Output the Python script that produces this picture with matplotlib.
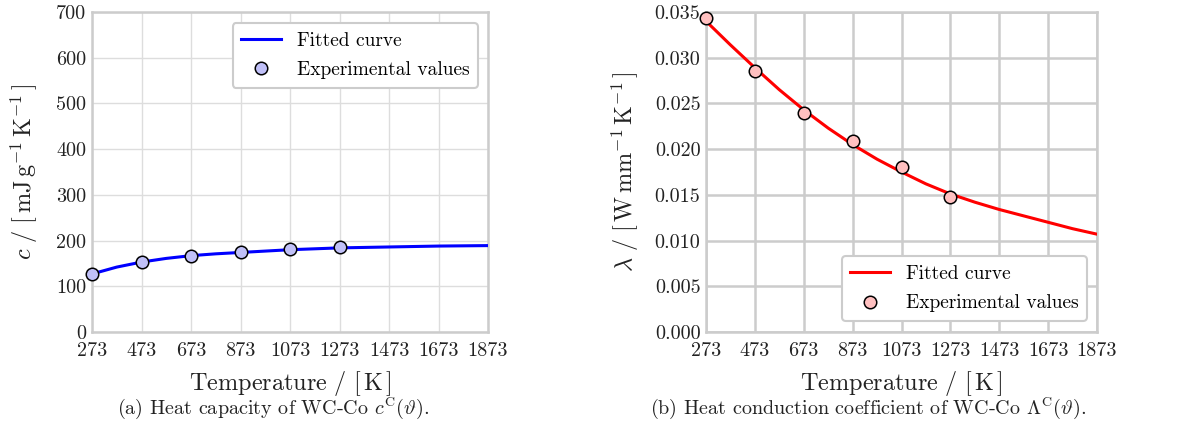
import numpy as np
import matplotlib
matplotlib.use('Agg')
import matplotlib.pyplot as plt

plt.rcParams['font.family'] = 'serif'
plt.rcParams['font.serif'] = ['cmr10', 'DejaVu Serif']
plt.rcParams['mathtext.fontset'] = 'cm'
plt.rcParams['axes.formatter.use_mathtext'] = True
plt.rcParams['axes.unicode_minus'] = False

# temperatures of the experiments
temp_exp = [273, 473, 673, 873, 1073, 1273]
# heat capacity, mJ/(g K)
c_exp = [127, 154, 167, 175, 181, 186]
# heat conduction, W/(mm K)
lam_exp = [0.0343, 0.02855, 0.0239, 0.0209, 0.0180, 0.01473]

temp_fit = [273, 373, 473, 573, 673, 773, 873, 973, 1073, 1173, 1273,
            1373, 1473, 1573, 1673, 1773, 1873]
c_fit = [127, 142, 153, 161, 167, 171, 174, 177, 180, 182, 184,
         185, 186, 187, 188, 188.5, 189]
lam_fit = [0.0340, 0.0314, 0.0289, 0.0265, 0.0243, 0.0223, 0.0205, 0.0189,
           0.0175, 0.0162, 0.0151, 0.0142, 0.0134, 0.0127, 0.0120, 0.0113,
           0.0107]

xticks = [273, 473, 673, 873, 1073, 1273, 1473, 1673, 1873]
c_ticks = [0, 100, 200, 300, 400, 500, 600, 700]
lam_ticks = [0.000, 0.005, 0.010, 0.015, 0.020, 0.025, 0.030, 0.035]

W, H = 1189, 443
fig = plt.figure(figsize=(W / 100, H / 100), dpi=100)
ax1 = fig.add_axes([92 / W, 1 - 332 / H, 396 / W, 320 / H])
ax2 = fig.add_axes([706 / W, 1 - 332 / H, 391 / W, 320 / H])

tick_fs = 14.5
label_fs = 17.5


def style_axes(ax, gridcol, gridlw):
  ax.set_facecolor('white')
  ax.grid(True, color=gridcol, linewidth=gridlw, zorder=0)
  ax.set_axisbelow(True)
  for sp in ax.spines.values():
    sp.set_color('#cccccc')
    sp.set_linewidth(1.8)
  ax.tick_params(length=0, labelsize=tick_fs, colors='#222222')
  ax.tick_params(axis='x', pad=7.5)
  ax.tick_params(axis='y', pad=4)
  ax.set_xlim(273, 1873)
  ax.set_xticks(xticks)
  ax.set_xticklabels([str(t) for t in xticks])
  ax.set_xlabel(r'$\mathrm{Temperature}\ /\ [\,\mathrm{K}\,]$', fontsize=label_fs,
                color='#222222', labelpad=6)


def style_legend(lgd):
  fr = lgd.get_frame()
  fr.set_edgecolor('#cccccc')
  fr.set_linewidth(1.5)
  fr.set_alpha(1)


leg_kw = dict(fontsize=14, frameon=True, fancybox=True, borderpad=0.45,
              handlelength=2.05, handletextpad=0.8, labelspacing=0.6,
              borderaxespad=0)

# heat capacity
style_axes(ax1, '#dddddd', 1.0)
ax1.plot(temp_fit, c_fit, color='blue', linewidth=2.2, label='Fitted curve', zorder=3)
ax1.plot(temp_exp, c_exp, 'o', markersize=9, markerfacecolor='#c0c0f8',
         markeredgecolor='black', markeredgewidth=1.1, label='Experimental values',
         clip_on=False, zorder=4)
ax1.set_ylim(0, 700)
ax1.set_yticks(c_ticks)
ax1.set_yticklabels([str(v) for v in c_ticks])
ax1.set_ylabel(r'$c\ /\ [\,\mathrm{mJ\,g^{-1}\,K^{-1}}\,]$', fontsize=label_fs,
               color='#222222', labelpad=12)
lgd1 = ax1.legend(loc='upper right', bbox_to_anchor=(0.975, 0.966), **leg_kw)
style_legend(lgd1)

# heat conduction
style_axes(ax2, '#cccccc', 1.8)
ax2.plot(temp_fit, lam_fit, color='red', linewidth=2.2, label='Fitted curve', zorder=3)
ax2.plot(temp_exp, lam_exp, 'o', markersize=9, markerfacecolor='#ffc0c0',
         markeredgecolor='black', markeredgewidth=1.1, label='Experimental values',
         clip_on=False, zorder=4)
ax2.set_ylim(0, 0.035)
ax2.set_yticks(lam_ticks)
ax2.set_yticklabels(['%.3f' % v for v in lam_ticks])
ax2.set_ylabel(r'$\lambda\ /\ [\,\mathrm{W\,mm^{-1}\,K^{-1}}\,]$', fontsize=label_fs,
               color='#222222', labelpad=10)
lgd2 = ax2.legend(loc='lower right', bbox_to_anchor=(0.975, 0.034), **leg_kw)
style_legend(lgd2)

# captions
fig.text(273 / W, 1 - 408 / H, r'(a) Heat capacity of WC-Co $c^{\mathrm{C}}(\vartheta)$.',
         ha='center', va='center', fontsize=14.5, color='#222222')
fig.text(868 / W, 1 - 408 / H,
         r'(b) Heat conduction coefficient of WC-Co $\mathit{\Lambda}^{\mathrm{C}}(\vartheta)$.',
         ha='center', va='center', fontsize=14.5, color='#222222')

fig.savefig('out.png', dpi=100)
